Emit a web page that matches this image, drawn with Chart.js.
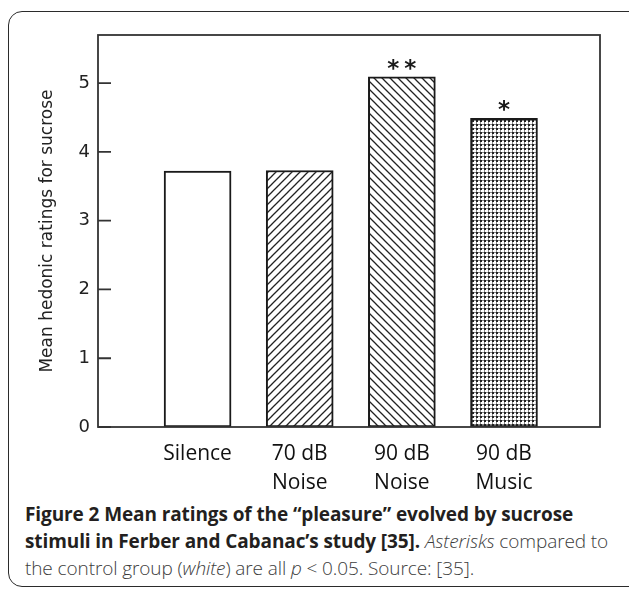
<!DOCTYPE html>
<html>
<head>
<meta charset="utf-8">
<script src="https://cdn.jsdelivr.net/npm/chart.js@4.4.1/dist/chart.umd.min.js"></script>
<style>
  html, body { margin: 0; padding: 0; background: #fff; }
  body { width: 629px; height: 590px; position: relative; overflow: hidden; }
  .frame {
    position: absolute; left: 8px; top: 11px; width: 700px; height: 576px;
    box-sizing: border-box; border: 1.5px solid #2b2b2b; border-radius: 14px;
  }
  #wrap { position: absolute; left: 0; top: 0; width: 629px; height: 500px; }
  .caption {
    position: absolute; left: 25px; top: 501px; white-space: nowrap;
    font-family: "Open Sans", sans-serif; font-size: 19px; line-height: 27px;
    color: #3c3c3c; font-weight: 300; letter-spacing: -0.1px;
  }
  .caption b { font-weight: 700; color: #231f20; }
</style>
</head>
<body>
<div class="frame"></div>
<div id="wrap"><canvas id="chart" width="629" height="500"></canvas></div>
<div class="caption">
  <b>Figure 2 Mean ratings of the “pleasure” evolved by sucrose</b><br>
  <b>stimuli in Ferber and Cabanac’s study [35].</b> <i>Asterisks</i> compared to<br>
  the control group (<i>white</i>) are all <i>p</i> &lt; 0.05. Source: [35].
</div>
<script>
// data
const groups = [['Silence'], ['70 dB', 'Noise'], ['90 dB', 'Noise'], ['90 dB', 'Music']];
const ratings = [3.72, 3.73, 5.09, 4.49];
const stars = ['', '', '**', '*'];
const yTicks = [0, 1, 2, 3, 4, 5];

// fill patterns for the bars
function makePattern(kind) {
  const c = document.createElement('canvas');
  const size = kind === 'dots' ? 4 : 8;
  c.width = size; c.height = size;
  const g = c.getContext('2d');
  g.fillStyle = '#fff';
  g.fillRect(0, 0, size, size);
  g.strokeStyle = '#222';
  g.lineWidth = 1.3;
  if (kind === 'fwd') {
    g.beginPath();
    g.moveTo(-2, size + 2); g.lineTo(size + 2, -2);
    g.moveTo(-2, 2); g.lineTo(2, -2);
    g.moveTo(size - 2, size + 2); g.lineTo(size + 2, size - 2);
    g.stroke();
  } else if (kind === 'back') {
    g.beginPath();
    g.moveTo(-2, -2); g.lineTo(size + 2, size + 2);
    g.moveTo(size - 2, -2); g.lineTo(size + 2, 2);
    g.moveTo(-2, size - 2); g.lineTo(2, size + 2);
    g.stroke();
  } else if (kind === 'dots') {
    g.fillStyle = '#888';
    g.fillRect(0, 0, 4, 1);
    g.fillRect(0, 0, 1, 4);
    g.fillStyle = '#222';
    g.fillRect(0, 0, 2, 2);
  }
  return g.createPattern(c, 'repeat');
}
const fills = ['#ffffff', makePattern('fwd'), makePattern('back'), makePattern('dots')];

const boxAndMarks = {
  id: 'boxAndMarks',
  afterDatasetsDraw(chart) {
    const { ctx, chartArea: a, scales: { y } } = chart;
    ctx.save();
    ctx.strokeStyle = '#333';
    ctx.lineWidth = 1.8;
    ctx.strokeRect(a.left, a.top, a.right - a.left, a.bottom - a.top);
    ctx.beginPath();
    yTicks.forEach(v => {
      const py = y.getPixelForValue(v);
      ctx.moveTo(a.left, py);
      ctx.lineTo(a.left + 13, py);
    });
    ctx.stroke();
    // significance asterisks
    ctx.fillStyle = '#1a1a1a';
    ctx.font = 'bold 23px "DejaVu Sans"';
    ctx.textAlign = 'center';
    ctx.textBaseline = 'alphabetic';
    const meta = chart.getDatasetMeta(0);
    meta.data.forEach((bar, i) => {
      const s = stars[i];
      for (let k = 0; k < s.length; k++) {
        const dx = (k - (s.length - 1) / 2) * 17;
        ctx.fillText('*', bar.x + dx, bar.y - 1);
      }
    });
    ctx.restore();
  }
};

new Chart(document.getElementById('chart'), {
  type: 'bar',
  data: {
    datasets: [{
      data: ratings.map((v, i) => ({ x: i, y: v })),
      backgroundColor: fills,
      borderColor: '#1a1a1a',
      borderWidth: 2,
      borderSkipped: false,
      barThickness: 67
    }]
  },
  options: {
    responsive: false,
    animation: false,
    layout: { padding: { left: 0, right: 29, top: 35, bottom: 0 } },
    plugins: { legend: { display: false }, tooltip: { enabled: false } },
    scales: {
      x: {
        type: 'linear',
        offset: false,
        min: -0.975,
        max: 3.94,
        afterBuildTicks: s => { s.ticks = groups.map((g, i) => ({ value: i })); },
        afterFit: s => { s.height = 73; },
        grid: { display: false, drawTicks: false },
        border: { display: false },
        ticks: {
          padding: 12,
          color: '#111',
          font: { family: '"Open Sans"', size: 21, lineHeight: 1.4 },
          callback: v => groups[v]
        }
      },
      y: {
        min: 0,
        max: 5.7,
        afterBuildTicks: s => { s.ticks = yTicks.map(v => ({ value: v })); },
        afterFit: s => { s.width = 98; },
        grid: { display: false, drawTicks: false },
        border: { display: false },
        ticks: {
          padding: 8,
          color: '#222',
          font: { family: '"DejaVu Sans"', size: 18 }
        },
        title: {
          display: true,
          text: 'Mean hedonic ratings for sucrose',
          color: '#222',
          font: { family: '"DejaVu Sans"', size: 17 },
          padding: { top: 37, bottom: 0 }
        }
      }
    }
  },
  plugins: [boxAndMarks]
});
</script>
</body>
</html>
